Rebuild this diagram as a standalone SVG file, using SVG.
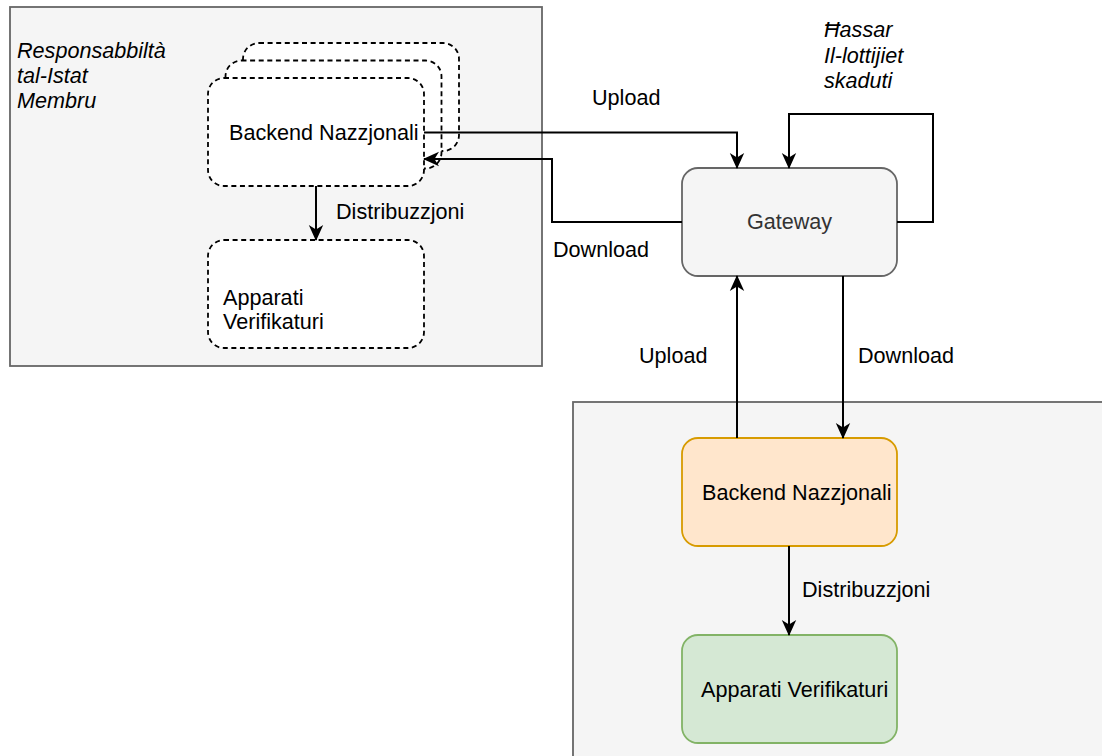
<svg xmlns="http://www.w3.org/2000/svg" width="1102" height="756" viewBox="0 0 1102 756">
<style>
text{font-family:"Liberation Sans",Arial,sans-serif;font-size:21.6px;fill:#000}
.it{font-style:italic}
.cont{fill:#f5f5f5;stroke:#666;stroke-width:1.8}
.dash{fill:#fff;stroke:#000;stroke-width:1.8;stroke-dasharray:5 3.6}
.edge{fill:none;stroke:#000;stroke-width:2}
</style>
<defs>
<marker id="arr" viewBox="0 0 16 16" refX="15" refY="8" markerWidth="16" markerHeight="16" markerUnits="userSpaceOnUse" orient="auto">
<path d="M16,8 L0,0.8 L4.5,8 L0,15.2 Z" fill="#000"/>
</marker>
</defs>
<rect width="1102" height="756" fill="#fff"/>
<g id="container-member-state">
<rect class="cont" x="10" y="7" width="532" height="359"/>
<text class="it" x="17" y="58">Responsabbiltà</text>
<text class="it" x="17" y="83">tal-Istat</text>
<text class="it" x="17" y="108">Membru</text>
</g>
<g id="container-bottom">
<rect class="cont" x="573" y="402" width="540" height="370"/>
</g>
<g id="note-hassar">
<text class="it" x="824" y="37">Ħassar</text>
<text class="it" x="824" y="63">Il-lottijiet</text>
<text class="it" x="824" y="88">skaduti</text>
</g>
<g id="backend-stack">
<rect class="dash" x="243" y="43" width="216" height="108" rx="16" ry="16"/>
<rect class="dash" x="225.5" y="60.5" width="216" height="108" rx="16" ry="16"/>
<rect class="dash" x="208" y="78" width="216" height="108" rx="16" ry="16"/>
<text x="229" y="139.5">Backend Nazzjonali</text>
</g>
<g id="apparati-left">
<rect class="dash" x="208" y="240" width="216" height="108" rx="16" ry="16"/>
<text x="223" y="305">Apparati</text>
<text x="223" y="329">Verifikaturi</text>
</g>
<g id="gateway">
<rect x="682" y="168" width="215" height="108" rx="16" ry="16" fill="#f5f5f5" stroke="#666" stroke-width="1.8"/>
<text x="789.5" y="229" text-anchor="middle" style="fill:#333">Gateway</text>
</g>
<g id="backend-bottom">
<rect x="682" y="438" width="215" height="108" rx="16" ry="16" fill="#ffe6cc" stroke="#d79b00" stroke-width="1.8"/>
<text x="702" y="499.5">Backend Nazzjonali</text>
</g>
<g id="apparati-bottom">
<rect x="682" y="635" width="215" height="108" rx="16" ry="16" fill="#d5e8d4" stroke="#82b366" stroke-width="1.8"/>
<text x="701" y="697">Apparati Verifikaturi</text>
</g>
<g id="connectors">
<path class="edge" d="M424,132.5 H737 V168" marker-end="url(#arr)"/>
<path class="edge" d="M682,222 H552 V159 H424" marker-end="url(#arr)"/>
<path class="edge" d="M897,222 H933 V114 H789 V168" marker-end="url(#arr)"/>
<path class="edge" d="M316,186 V240" marker-end="url(#arr)"/>
<path class="edge" d="M737,438 V276" marker-end="url(#arr)"/>
<path class="edge" d="M843,276 V438" marker-end="url(#arr)"/>
<path class="edge" d="M789,546 V635" marker-end="url(#arr)"/>
</g>
<g id="labels">
<text x="592" y="105">Upload</text>
<text x="553" y="257">Download</text>
<text x="336" y="219">Distribuzzjoni</text>
<text x="639" y="363">Upload</text>
<text x="858" y="363">Download</text>
<text x="802" y="597">Distribuzzjoni</text>
</g>
</svg>
